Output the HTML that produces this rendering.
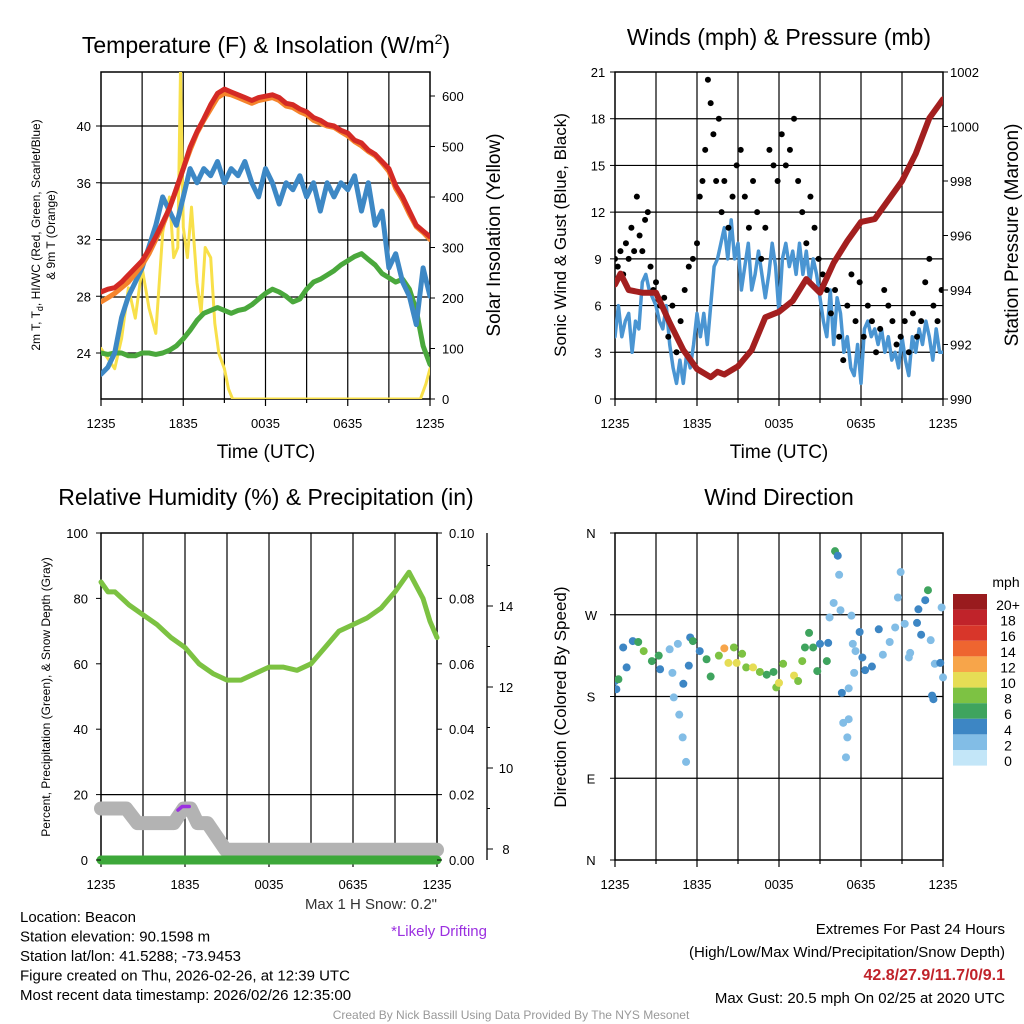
<!DOCTYPE html>
<html><head><meta charset="utf-8"><style>
body{margin:0;background:#fff;}
svg{display:block;font-family:"Liberation Sans",sans-serif;}
</style></head><body>
<svg id="s" width="1024" height="1024" xmlns="http://www.w3.org/2000/svg"></svg>
<script>
// ---------- DATA ----------
const timeLabels=["1235","1835","0035","0635","1235"];
const tHalf=[];for(let i=0;i<=48;i++)tHalf.push(i/2);
const tQuarter=[];for(let i=0;i<=96;i++)tQuarter.push(i/4);
const tempRed=[28.3,28.5,28.6,29,29.5,30,30.5,31.3,32.2,33.2,34.2,35.6,37,38.5,39.6,40.5,41.5,42.3,42.6,42.4,42.2,42,41.8,42,42.1,42.2,42,41.6,41.5,41.2,41,40.6,40.4,40.1,40,39.7,39.5,39,38.8,38.3,38,37.5,37,35.8,35,34,33,32.6,32.2];
const tempOrange=[27.6,27.9,28.2,28.6,29,29.6,30.2,31,32,33,34.2,35.5,37,38.3,39.5,40.4,41.2,42,42.3,42.2,42,41.8,41.6,41.8,41.9,42,41.8,41.4,41.3,41,40.8,40.4,40.2,40,39.9,39.6,39.3,38.9,38.6,38.2,37.9,37.4,36.8,35.6,34.8,33.8,32.9,32.5,32];
const tempBlue=[22.5,23,24,26.5,28,29,30,31.5,33,35,34,33,35,37,36,37,36.5,37.5,36,37,36.5,37.5,36,35,37,36,34.5,36,35.5,36.5,35,36,34,36,35,36,35.5,36.5,34,36,33,34,30,31,29,28,26,30,28];
const tempGreen=[24,23.9,24,24,23.8,23.8,24,24,23.9,24,24.2,24.5,25,25.6,26.3,26.8,27,27.2,27,26.8,27,27.1,27.4,27.8,28.2,28.5,28.3,28,27.6,27.8,28.5,29,29.2,29.5,29.8,30.2,30.5,30.8,31,30.6,30.2,29.6,29.3,29,29.2,28.5,27,24.5,23.2];
const insolT=[0,0.5,1,1.5,2,2.5,3,3.5,4,4.5,5,5.3,5.6,5.8,6,6.3,6.6,7,7.3,7.6,8,8.3,8.6,9,9.3,9.6,23.3,23.7,24];
const insolV=[100,80,60,120,220,160,260,180,130,330,400,280,300,650,340,280,380,230,170,300,280,150,90,60,20,0,0,30,60];
const windSonic=[4,6,4,5, 5.5,3,5,4.5, 7.5,8,7,6.5, 6,5,4.5,6, 3.5,2,1,2.5, 1,3,2,3.5, 5.5,4,5.5,3.5, 6,8.5,9,10, 11,9,11.5,9, 10,7,8.5,10, 7,8,9.5,8, 6.5,8,10,8.5, 5.5,9,10,8.5, 9.5,8,10,8, 9.5,7.5,9,8, 6.5,5,4,7, 3.5,6.5,5.5,3, 4,2,1.5,3.5, 1,4.5,5,4, 4.5,3.5,4.5,3, 4,2.5,3,2, 4,2.5,1.5,4, 3,4.5,3.5,5, 4,2.5,4.5,3, 3];
const gustT=[0,0.2,0.4,0.6,0.8,1,1.2,1.4,1.6,1.8,2,2.2,2.4,2.6,2.8,3,3.3,3.6,3.9,4.2,4.5,4.8,5.1,5.4,5.7,6,6.2,6.4,6.6,6.8,7,7.2,7.4,7.6,7.8,8,8.3,8.6,8.9,9.2,9.5,9.8,10.1,10.4,10.7,11,11.3,11.6,11.9,12.2,12.5,12.8,13.1,13.4,13.7,14,14.3,14.6,14.9,15.2,15.5,15.8,16.1,16.4,16.7,17,17.3,17.6,17.9,18.2,18.5,18.8,19.1,19.4,19.7,20,20.3,20.6,20.9,21.2,21.5,21.8,22.1,22.4,22.7,23,23.3,23.6,23.9];
const gustV=[9,8.5,9.5,8,10,9,11,9.5,13,10.5,9.5,11.5,12,8.5,7,7.5,6,6.5,4,6,3,5,7,8.5,9,10,13,14,16,20.5,19,17,14,18,12,14,11,13,15,16,13,11,14,12,9,11,16,15,14,17,15,16,18,14,12,10,13,11,9,8,7,5.5,7,4,2.5,6,8,5,7.5,4,6,5,3,4.5,7,6,5,3.5,4,5,3,5.5,4,5,7.5,9,6,5,7];
const pressT=[0,0.4,1,2,3,4,5,6,7,7.5,8,9,10,11,12,13,14,15,16,17,18,19,20,21,22,23,24];
const pressV=[994.2,994.6,994,993.9,993.9,992.8,991.8,991.1,990.8,991,990.9,991.2,991.8,993,993.2,993.6,994.4,993.9,995,995.8,996.5,996.6,997.3,998,999,1000.3,1001];
const rhT=[0,0.5,1,2,3,4,5,6,7,8,9,10,11,12,13,14,15,16,17,18,19,20,21,22,22.5,23,23.5,24];
const rhV=[85,82,82,78,75,72,68,65,60,57,55,55,57,59,59,58,60,65,70,72,74,77,82,88,84,80,73,68];
const snowT=[0,1.8,2.6,5.2,5.9,6.4,6.9,7.6,8.9,24];
const snowV=[9,9,8.64,8.64,9,9,8.64,8.64,7.98,7.98];
const driftT=[5.5,5.8,6.3];
const driftV=[8.96,9.05,9.05];
const dirT=[0,0.1,0.25,0.6,0.85,1.3,1.7,2.1,2.7,3.2,3.3,4,4.2,4.3,4.6,4.7,4.95,5.2,5,5.4,5.5,5.7,6.2,6.7,7,7.6,8,8.3,8.7,8.9,9.3,9.6,10.1,10.6,11.1,11.6,11.8,12,12.3,13.1,13.4,13.7,13.9,14.2,14.5,14.8,15,15.5,15.6,15.7,16,16.1,16.3,16.4,16.5,16.6,16.7,17,17.1,16.9,17.1,17.3,17.4,17.6,17.5,17.9,18.1,18.3,18.8,19.3,19.6,20.1,20.5,20.7,20.9,21.2,21.5,21.6,22.1,22.2,22.4,22.7,22.9,23.1,23.2,23.3,23.4,23.8,23.9,24];
const dirV=[197,188,199,234,212,241,240,230,219,225,210,232,206,179,238,160,135,108,194,214,245,241,230,221,202,225,233,217,234,217,227,212,212,207,204,207,190,195,216,203,197,219,234,250,234,208,238,219,239,267,283,340,335,314,275,184,151,135,155,113,189,269,238,230,206,251,223,209,213,254,226,240,256,289,317,260,223,228,261,276,248,286,297,242,181,177,216,217,278,201];
const dirS=[4,4,6,4,4,4,6,7,6,6,4,2,1,1,2,1,1,1,4,4,4,6,4,6,6,8,12,10,8,10,8,8,10,8,6,6,8,10,8,10,8,8,6,6,6,6,4,6,4,2,2,6,4,2,2,4,2,2,1,1,1,2,1,2,1,4,4,4,4,4,2,2,2,2,2,2,1,2,4,4,4,4,6,2,4,4,2,4,2,2];
const cbLabels=["20+","18","16","14","12","10","8","6","4","2","0"];
const cbColors=["#991b1e","#c0232a","#d8362a","#ee6530","#f7a54a","#e6dd55","#7dc243","#3fa45e","#3d86c4","#82bde6","#c3e6f8"];

// ---------- HELPERS ----------
const S=document.getElementById('s');const NS="http://www.w3.org/2000/svg";
function el(tag,attrs,parent){const e=document.createElementNS(NS,tag);for(const k in attrs)e.setAttribute(k,attrs[k]);(parent||S).appendChild(e);return e;}
function txt(x,y,str,size,anchor,extra){const e=el('text',Object.assign({x:x,y:y,'font-size':size,'text-anchor':anchor||'middle',fill:'#000'},extra||{}));e.textContent=str;return e;}
function lin(d0,d1,r0,r1){return v=>r0+(v-d0)*(r1-r0)/(d1-d0);}
function poly(xs,ys,fx,fy,color,w,name){const pts=xs.map((x,i)=>fx(x).toFixed(1)+','+fy(ys[i]).toFixed(1)).join(' ');const p=el('polyline',{points:pts,fill:'none',stroke:color,'stroke-width':w,'stroke-linejoin':'round','stroke-linecap':'round'});return p;}
function frame(x0,x1,y0,y1,vlines,hys,name){
  const g=el('g',{});
  vlines.forEach(x=>el('line',{x1:x,x2:x,y1:y0,y2:y1,stroke:'#000','stroke-width':1.2},g));
  hys.forEach(y=>el('line',{x1:x0,x2:x1,y1:y,y2:y,stroke:'#000','stroke-width':1.2},g));
  el('rect',{x:x0,y:y0,width:x1-x0,height:y1-y0,fill:'none',stroke:'#000','stroke-width':1.5},g);
  for(let i=0;i<=8;i++){const x=x0+(x1-x0)*i/8;el('line',{x1:x,x2:x,y1:y1,y2:y1+(i%2?4:7),stroke:'#000','stroke-width':1.2},g);}
  timeLabels.forEach((l,i)=>{const t=txt(x0+(x1-x0)*i/4,y1+29,l,13);});
  return g;}
function vtxt(x,y,str,size,name){const t=txt(x,y,str,size,'middle',{transform:`rotate(-90 ${x} ${y})`});return t;}

// ---------- PANEL 1 ----------
{const x0=101,x1=430,y0=72,y1=399;
const fx=lin(0,24,x0,x1),fy=lin(40,24,126,353),fr=lin(0,600,399,96);
const grid=[];for(let i=1;i<8;i++)grid.push(x0+(x1-x0)*i/8);
frame(x0,x1,y0,y1,grid,[126,183,240,297,353],'temperature-plot-frame');
const cp=el('clipPath',{id:'c1'});el('rect',{x:x0,y:y0,width:x1-x0,height:y1-y0},cp);
const g=el('g',{'clip-path':'url(#c1)'});
g.appendChild(poly(insolT,insolV,fx,fr,'#f8e04a',3,'insolation-line'));
g.appendChild(poly(tHalf,tempGreen,fx,fy,'#4aa83c',5,'dewpoint-green-line'));
g.appendChild(poly(tHalf,tempBlue,fx,fy,'#3d88c5',5,'heat-index-wind-chill-line'));
g.appendChild(poly(tHalf,tempOrange,fx,fy,'#f5842c',5,'temp-9m-line'));
g.appendChild(poly(tHalf,tempRed,fx,fy,'#d42a25',5,'temp-2m-line'));
[24,28,32,36,40].forEach(v=>{el('line',{x1:x0-5,x2:x0,y1:fy(v),y2:fy(v),stroke:'#000'});const t=txt(x0-10,fy(v)+5,v,13,'end');});
[0,100,200,300,400,500,600].forEach(v=>{el('line',{x1:x1,x2:x1+5,y1:fr(v),y2:fr(v),stroke:'#000'});const t=txt(x1+12,fr(v)+5,v,13,'start');});
const tt=el('text',{x:266,y:53,'font-size':23,'text-anchor':'middle'});tt.innerHTML='Temperature (F) &amp; Insolation (W/m<tspan dy="-9" font-size="14">2</tspan><tspan dy="9">)</tspan>';
const xt=txt(266,458,'Time (UTC)',19);
const l1=el('text',{x:40,y:235,'font-size':12,'text-anchor':'middle',transform:'rotate(-90 40 235)'});l1.innerHTML='2m T, T<tspan dy="3" font-size="9">d</tspan><tspan dy="-3">, HI/WC (Red, Green, Scarlet/Blue)</tspan>';
vtxt(55,235,'& 9m T (Orange)',12,'y-axis-title-line2');
vtxt(500,235,'Solar Insolation (Yellow)',19,'y2-axis-title');}

// ---------- PANEL 2 ----------
{const x0=615,x1=943,y0=72,y1=399;
const fx=lin(0,24,x0,x1),fy=lin(0,21,y1,y0),fp=lin(990,1002,y1,y0);
const grid=[];for(let i=1;i<8;i++)grid.push(x0+(x1-x0)*i/8);
const hy=[];for(let v=3;v<21;v+=3)hy.push(fy(v));
frame(x0,x1,y0,y1,grid,hy,'wind-plot-frame');
const cp=el('clipPath',{id:'c2'});el('rect',{x:x0,y:y0,width:x1-x0,height:y1-y0},cp);
const g=el('g',{'clip-path':'url(#c2)'});
g.appendChild(poly(tQuarter,windSonic,fx,fy,'#4a95d2',3.5,'sonic-wind-line'));
gustT.forEach((t,i)=>{const c=el('circle',{cx:fx(t),cy:fy(gustV[i]),r:3,fill:'#000'},g);});
g.appendChild(poly(pressT,pressV,fx,fp,'#a31f1f',6,'pressure-line'));
for(let v=0;v<=21;v+=3){el('line',{x1:x0-5,x2:x0,y1:fy(v),y2:fy(v),stroke:'#000'});const t=txt(x0-17,fy(v)+5,v,13,'middle');}
for(let v=990;v<=1002;v+=2){el('line',{x1:x1,x2:x1+5,y1:fp(v),y2:fp(v),stroke:'#000'});const t=txt(x1+7,fp(v)+5,v,13,'start');}
const tt=txt(779,45,'Winds (mph) & Pressure (mb)',23);
const xt=txt(779,458,'Time (UTC)',19);
vtxt(566,235,'Sonic Wind & Gust (Blue, Black)',17,'y-axis-title');
vtxt(1018,235,'Station Pressure (Maroon)',19,'y2-axis-title');}

// ---------- PANEL 3 ----------
{const x0=101,x1=437,y0=533,y1=860;
const fx=lin(0,24,x0,x1),fy=lin(0,100,y1,y0),fs=lin(8,14,849,606);
const grid=[];for(let i=1;i<8;i++)grid.push(x0+(x1-x0)*i/8);
frame(x0,x1,y0,y1,grid,[fy(20)],'humidity-plot-frame');
const g=el('g',{});
g.appendChild(poly(snowT,snowV,fx,fs,'#b3b3b3',14,'snow-depth-line'));
g.appendChild(poly([0,24],[0,0],fx,fy,'#3da83a',9,'precipitation-line'));
g.appendChild(poly(rhT,rhV,fx,fy,'#7cc242',5,'relative-humidity-line'));
g.appendChild(poly(driftT,driftV,fx,fs,'#9b30e0',3.5,'drifting-snow-marker'));
for(let v=0;v<=100;v+=20){el('line',{x1:x0-5,x2:x0,y1:fy(v),y2:fy(v),stroke:'#000'});const t=txt(x0-13,fy(v)+5,v,13,'end');}
for(let i=0;i<=10;i+=2){const y=fy(i*10);el('line',{x1:x1,x2:x1+5,y1:y,y2:y,stroke:'#000'});const t=txt(x1+12,y+5,(i/100).toFixed(2),13,'start');}
el('line',{x1:487,x2:487,y1:533,y2:860,stroke:'#000','stroke-width':1.3});
for(let v=8;v<=14;v+=2){el('line',{x1:487,x2:493,y1:fs(v),y2:fs(v),stroke:'#000'});const t=txt(506,fs(v)+5,v,13,'middle');}
for(let v=9;v<=15;v+=2){el('line',{x1:487,x2:490,y1:fs(v),y2:fs(v),stroke:'#000'});}
const tt=txt(266,505,'Relative Humidity (%) & Precipitation (in)',23);
vtxt(50,697,'Percent, Precipitation (Green), & Snow Depth (Gray)',12,'y-axis-title');
const m=txt(437,909,'Max 1 H Snow: 0.2"',15,'end',{fill:'#333'});
const d=txt(487,936,'*Likely Drifting',15,'end',{fill:'#9b30e0'});}

// ---------- PANEL 4 ----------
{const x0=615,x1=943,y0=533,y1=860;
const fx=lin(0,24,x0,x1),fy=lin(0,360,y1,y0);
const grid=[];for(let i=1;i<8;i++)grid.push(x0+(x1-x0)*i/8);
frame(x0,x1,y0,y1,grid,[fy(90),fy(180),fy(270)],'direction-plot-frame');
["N","E","S","W","N"].forEach((l,i)=>{const y=fy(i*90);el('line',{x1:x0-5,x2:x0,y1:y,y2:y,stroke:'#000'});const t=txt(x0-24,y+5,l,13,'middle');});
const cp=el('clipPath',{id:'c4'});el('rect',{x:x0,y:y0,width:x1-x0+4,height:y1-y0},cp);
const g=el('g',{'clip-path':'url(#c4)'});
function col(s){const idx=Math.min(10,Math.round(s/2));return cbColors[10-idx];}
dirT.forEach((t,i)=>{const c=el('circle',{cx:fx(t),cy:fy(dirV[i]),r:4,fill:col(dirS[i])},g);});
const tt=txt(779,505,'Wind Direction',23);
vtxt(566,697,'Direction (Colored By Speed)',17,'y-axis-title');
const cb=el('g',{});
cbColors.forEach((c,i)=>{el('rect',{x:953,y:594+i*15.6,width:34,height:15.6,fill:c},cb);});
cbLabels.forEach((l,i)=>{txt(1008,610+i*15.6,l,14,'middle');});
txt(1006,587,'mph',14,'middle');}

// ---------- TEXT ----------
const info=["Location: Beacon","Station elevation: 90.1598 m","Station lat/lon: 41.5288; -73.9453","Figure created on Thu, 2026-02-26, at 12:39 UTC","Most recent data timestamp: 2026/02/26 12:35:00"];
info.forEach((s,i)=>{const t=txt(20,922+i*19.5,s,15,'start');});
const ext=[["Extremes For Past 24 Hours",'#000','normal',934],["(High/Low/Max Wind/Precipitation/Snow Depth)",'#000','normal',957],["42.8/27.9/11.7/0/9.1",'#c0232a','bold',980],["Max Gust: 20.5 mph On 02/25 at 2020 UTC",'#000','normal',1003]];
ext.forEach(e=>{const t=txt(1005,e[3],e[0],e[2]=='bold'?16:15,'end',{fill:e[1],'font-weight':e[2]});});
const cr=txt(511,1019,'Created By Nick Bassill Using Data Provided By The NYS Mesonet',12,'middle',{fill:'#999'});
</script>
</body></html>
